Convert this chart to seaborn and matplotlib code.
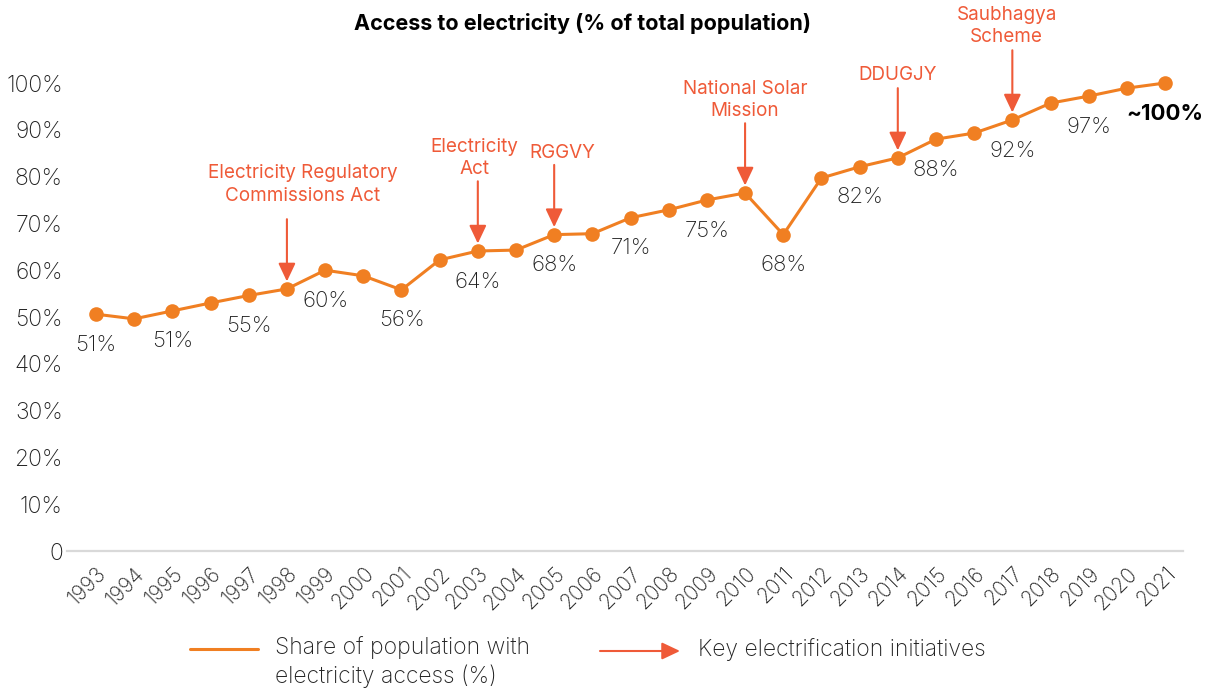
import matplotlib
matplotlib.use("Agg")
import matplotlib.pyplot as plt
import seaborn as sns
import pandas as pd
from matplotlib.lines import Line2D
from matplotlib.patches import FancyArrowPatch

# ---------------- data ----------------
years = list(range(1993, 2022))
access = [50.6, 49.6, 51.3, 53.0, 54.6, 56.0, 60.0, 58.8, 55.8, 62.2,
          64.1, 64.3, 67.6, 67.8, 71.2, 72.9, 75.0, 76.5, 67.6, 79.7,
          82.1, 84.0, 88.0, 89.3, 92.1, 95.7, 97.2, 98.9, 100.0]
label_years = [1993, 1995, 1997, 1999, 2001, 2003, 2005, 2007, 2009, 2011,
               2013, 2015, 2017, 2019, 2021]
label_texts = ["51%", "51%", "55%", "60%", "56%", "64%", "68%", "71%", "75%",
               "68%", "82%", "88%", "92%", "97%", "~100%"]
initiative_years = [1998, 2003, 2005, 2010, 2014, 2017]
initiative_names = ["Electricity Regulatory\nCommissions Act", "Electricity\nAct",
                    "RGGVY", "National Solar\nMission", "DDUGJY", "Saubhagya\nScheme"]
y_ticks = [0, 10, 20, 30, 40, 50, 60, 70, 80, 90, 100]
y_tick_labels = ["0", "10%", "20%", "30%", "40%", "50%", "60%", "70%", "80%", "90%", "100%"]

# ---------------- style ----------------
LINE_C = "#F07F22"
ANN_C = "#EF5A38"
TXT_C = "#222222"
ARROW_STYLE = "-|>,head_length=0.55,head_width=0.26"

sns.set_theme(style="white")
plt.rcParams["font.family"] = ["Inter", "DejaVu Sans"]
plt.rcParams["font.weight"] = "light"

fig = plt.figure(figsize=(12.12, 6.91), dpi=100)
ax = fig.add_axes([67 / 1212, 1 - 551 / 691, (1183 - 67) / 1212, (551 - 83) / 691])

df = pd.DataFrame({"idx": range(len(years)), "year": years, "access": access})
sns.lineplot(data=df, x="idx", y="access", ax=ax, color=LINE_C, linewidth=2.2,
             marker="o", markersize=10.5, markeredgewidth=0, clip_on=False)

ax.set_xlim(-0.76, 28.47)
ax.set_ylim(0, 100)
ax.set_xlabel("")
ax.set_ylabel("")
for s in ["top", "right", "left"]:
    ax.spines[s].set_visible(False)
ax.spines["bottom"].set_color("#d9d9d9")
ax.spines["bottom"].set_linewidth(1.6)

ax.set_yticks(y_ticks)
ax.set_yticklabels(y_tick_labels, fontsize=16.5, color=TXT_C)
ax.tick_params(axis="y", length=0, pad=3)
ax.set_xticks(range(len(years)))
ax.set_xticklabels([str(y) for y in years], rotation=45, ha="right",
                   rotation_mode="anchor", fontsize=15, color=TXT_C)
ax.tick_params(axis="x", length=0, pad=9)

# data labels
for yr, txt in zip(label_years, label_texts):
    i = years.index(yr)
    bold = txt.startswith("~")
    ax.annotate(txt, xy=(i, access[i]), xytext=(0, -22), textcoords="offset points",
                ha="center", va="center", fontsize=16,
                fontweight="bold" if bold else "light", color="black" if bold else TXT_C)

# initiatives: arrows + text
text_dx = {1998: 0.42, 2003: -0.08, 2005: 0.22, 2010: 0.0, 2014: 0.0, 2017: -0.15}
text_gap = {1998: 3.0, 2003: 0.6, 2005: 0.6, 2010: 0.6, 2014: 0.8, 2017: 0.8}
for yr, name in zip(initiative_years, initiative_names):
    i = years.index(yr)
    tip = access[i] + 1.6
    tail = tip + 13.3
    ax.annotate("", xy=(i, tip), xytext=(i, tail),
                arrowprops=dict(arrowstyle=ARROW_STYLE, mutation_scale=20, color=ANN_C,
                                lw=1.5, shrinkA=0, shrinkB=0), annotation_clip=False)
    ax.text(i + text_dx[yr], tail + text_gap[yr], name, ha="center", va="bottom",
            fontsize=13.6, fontweight="normal", color=ANN_C, linespacing=1.35, clip_on=False)

# title
fig.text(583 / 1212, 1 - 24 / 691, "Access to electricity (% of total population)",
         ha="center", va="center", fontsize=15.5, fontweight="bold", color="black")

# legend (bottom)
fig.add_artist(Line2D([190 / 1212, 258 / 1212], [1 - 649 / 691, 1 - 649 / 691],
                      color=LINE_C, lw=2.2, transform=fig.transFigure))
fig.text(275 / 1212, 1 - 662 / 691, "Share of population with\nelectricity access (%)",
         ha="left", va="center", fontsize=16.5, color=TXT_C, linespacing=1.25)
fig.add_artist(FancyArrowPatch(
    (600 / 1212, 1 - 651 / 691), (680 / 1212, 1 - 651 / 691),
    transform=fig.transFigure, arrowstyle=ARROW_STYLE,
    mutation_scale=20, color=ANN_C, lw=1.5, shrinkA=0, shrinkB=0))
fig.text(698 / 1212, 1 - 650 / 691, "Key electrification initiatives",
         ha="left", va="center", fontsize=16.5, color=TXT_C)

fig.savefig("out.png", dpi=100, facecolor="white")
